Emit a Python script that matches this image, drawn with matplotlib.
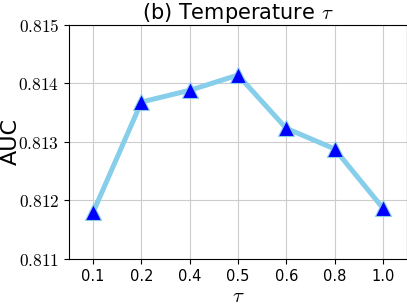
import numpy as np
import matplotlib
matplotlib.use("Agg")
import matplotlib.pyplot as plt
from matplotlib.ticker import FuncFormatter

plt.rcParams['mathtext.fontset'] = 'cm'

# data
tau_labels = ['0.1', '0.2', '0.4', '0.5', '0.6', '0.8', '1.0']
auc = [0.81180, 0.81368, 0.81388, 0.81414, 0.81323, 0.81288, 0.81187]
y_ticks = [0.811, 0.812, 0.813, 0.814, 0.815]

fig = plt.figure(figsize=(4.07, 3.05), dpi=100)
ax = fig.add_axes([69/407, 1-259/305, (407-69)/407, (259-24.7)/305])

x = np.arange(len(tau_labels))
ax.plot(x, auc, color='skyblue', lw=3.6, marker='^', ms=11,
        markerfacecolor='blue', markeredgecolor='skyblue', markeredgewidth=0.8)

ax.set_xticks(x)
ax.set_xticklabels(tau_labels, fontsize=10.5)
ax.set_xlim(-0.5, 6.5)
ax.set_yticks(y_ticks)
ax.set_ylim(0.811, 0.815)
ax.yaxis.set_major_formatter(FuncFormatter(lambda v, p: '$%.3f$' % v))
for t in ax.get_yticklabels():
    t.set_fontsize(12.5)
ax.grid(True, color='#cccccc', lw=0.8)
ax.set_axisbelow(True)

ax.set_xlabel(r'$\tau$', fontsize=15, labelpad=2)
ax.set_ylabel('AUC', fontsize=16)
# keep the label just inside the left edge
ax.yaxis.set_label_coords(-0.142, 0.5)
ax.set_title(r'(b) Temperature $\tau$', fontsize=15, pad=3)

fig.savefig('out.png', dpi=100)
